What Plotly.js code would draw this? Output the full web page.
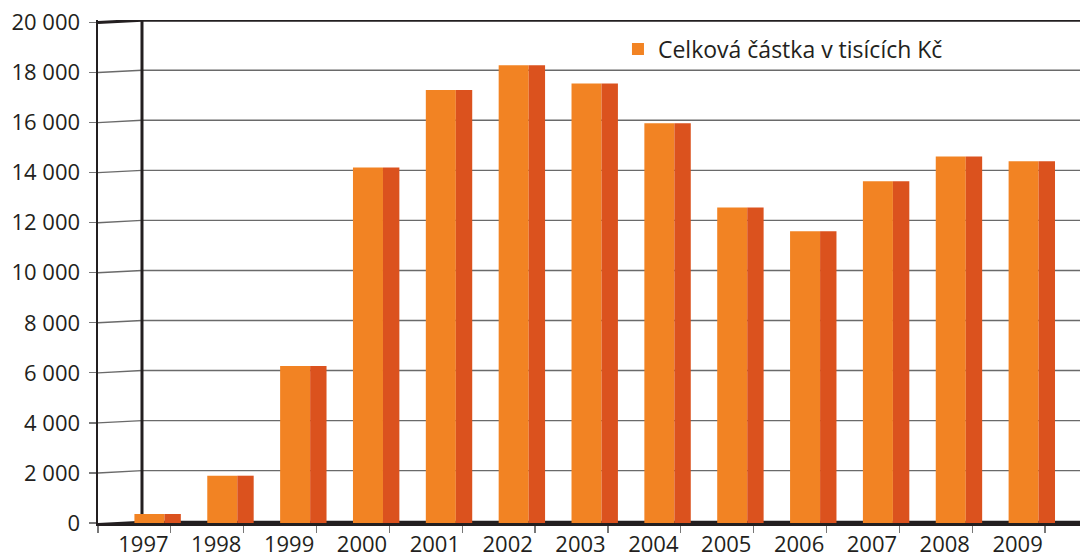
<!DOCTYPE html>
<html>
<head>
<meta charset="utf-8">
<script src="https://cdn.plot.ly/plotly-3.0.1.min.js"></script>
<style>
html,body{margin:0;padding:0;background:#fff;}
#chart{width:1080px;height:559px;}
</style>
</head>
<body>
<div id="chart"></div>
<script>
// ---- data ----
const years = ["1997","1998","1999","2000","2001","2002","2003","2004","2005","2006","2007","2008","2009"];
const amounts = [360, 1890, 6270, 14210, 17300, 18290, 17560, 15970, 12610, 11660, 13660, 14650, 14460];
const seriesName = "Celková částka v tisících Kč";
const yTickValues = [0, 2000, 4000, 6000, 8000, 10000, 12000, 14000, 16000, 18000, 20000];

// ---- style ----
const frontColor = "#F28323";
const sideColor = "#DB521E";
const inkColor = "#231F20";
const gridColor = "#6A6A6A";
const fontFam = "'Open Sans', 'Noto Sans', sans-serif";

const wallX = 0.0448;   // back wall position (paper fraction of plot width)
const depth = 92;       // perspective rise of back wall (in y units)
const yMax = 20000;

const shapes = [];
// floor (thin dark band)
shapes.push({type:"path", xref:"paper", yref:"y", layer:"below",
  path:`M 0,0 L ${wallX},${depth} L 1,${depth} L 1,0 Z`,
  fillcolor:inkColor, line:{width:0}});
// gridlines with perspective slant
yTickValues.forEach(v => {
  if (v === 0) return;
  const top = v === yMax;
  shapes.push({type:"path", xref:"paper", yref:"y", layer:"below",
    path:`M 0,${v} L ${wallX},${v+depth} L 1,${v+depth}`,
    line:{color: top ? inkColor : gridColor, width: top ? 3 : 1.4}});
});
// back wall vertical edge
shapes.push({type:"line", xref:"paper", yref:"y", layer:"below",
  x0:wallX, x1:wallX, y0:depth, y1:yMax+depth,
  line:{color:inkColor, width:3}});

const front = {
  type:"bar", x:years, y:amounts, name:seriesName,
  marker:{color:frontColor, line:{width:0}},
  width:0.412, offset:0, hoverinfo:"x+y"
};
const side = {
  type:"bar", x:years, y:amounts, name:seriesName, showlegend:false,
  marker:{color:sideColor, line:{width:0}},
  width:0.225, offset:0.412, hoverinfo:"skip"
};

const layout = {
  width:1080, height:559,
  margin:{l:98, r:0, t:20, b:36},
  paper_bgcolor:"#fff", plot_bgcolor:"rgba(0,0,0,0)",
  separators:", ",
  barmode:"overlay",
  font:{family:fontFam, color:inkColor, size:22},
  showlegend:true,
  legend:{x:0.5295, xanchor:"left", y:0.985, yanchor:"top",
    bgcolor:"rgba(0,0,0,0)", font:{size:23, family:fontFam, color:inkColor},
    itemwidth:30},
  xaxis:{type:"category", range:[-0.5, 12.98], tickson:"boundaries",
    ticks:"outside", ticklen:7, tickcolor:"#777", tickwidth:1.2,
    showgrid:false, zeroline:false, showline:true, linecolor:inkColor, linewidth:3,
    layer:"below traces", ticklabelshift:9,
    tickfont:{size:22, family:fontFam, color:inkColor}, fixedrange:true},
  yaxis:{range:[0, 20100], tickvals:yTickValues, tickformat:",d",
    ticks:"outside", ticklen:7, tickcolor:"#777", tickwidth:1.2,
    showgrid:false, zeroline:false, showline:true, linecolor:inkColor, linewidth:2.5,
    ticklabelstandoff:4,
    tickfont:{size:22, family:fontFam, color:inkColor}, fixedrange:true},
  shapes:shapes
};

Plotly.newPlot("chart", [front, side], layout, {staticPlot:true, displayModeBar:false});
</script>
</body>
</html>
